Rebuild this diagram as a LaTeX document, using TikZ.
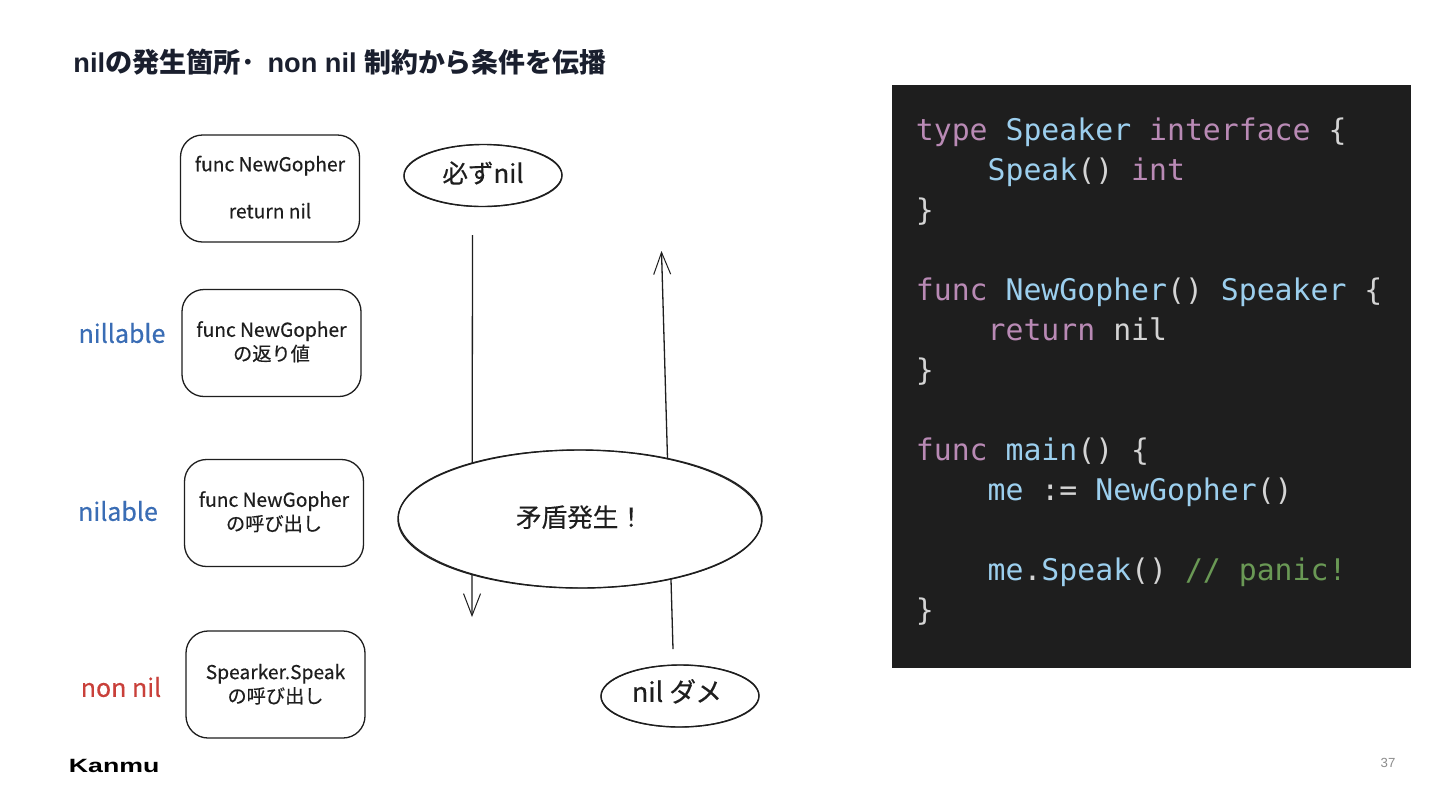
\documentclass[tikz,border=0pt]{standalone}
\usepackage{fontspec}
\setmainfont{Liberation Sans}
\newfontfamily\jafont{Noto Sans CJK JP}
\newfontfamily\handfont[FakeBold=0.35]{Noto Sans CJK JP}
\newfontfamily\logofont[FakeStretch=1.39]{Liberation Sans}
\newfontfamily\codefont{DejaVu Sans Mono}
\usetikzlibrary{shapes.geometric,arrows.meta}
\definecolor{ink}{HTML}{1E1E1E}
\definecolor{titleink}{HTML}{1A1F2E}
\definecolor{nblue}{HTML}{3A6DB5}
\definecolor{nred}{HTML}{C9403A}
\definecolor{codebg}{HTML}{1E1E1E}
\definecolor{ckw}{HTML}{B98AB5}
\definecolor{cid}{HTML}{9CCFEE}
\definecolor{cpl}{HTML}{D4D4D4}
\definecolor{ccm}{HTML}{6A9955}
\newcommand{\K}[1]{\textcolor{ckw}{#1}}
\newcommand{\I}[1]{\textcolor{cid}{#1}}
\newcommand{\Cm}[1]{\textcolor{ccm}{#1}}
\newcommand{\Ind}{\hspace{2.408em}}
\newcommand{\Lift}[1]{\\[#1]\mbox{}}
\newcommand{\Up}[2]{\raisebox{#1}[6pt][2pt]{#2}}
\tikzset{
  x=0.5pt,y=-0.5pt,
  sketchbox/.style={draw=ink,line width=0.65pt,rounded corners=11pt,fill=white,minimum width=89.5pt,minimum height=53.5pt,inner sep=0pt,align=center,font=\handfont\fontsize{9.6pt}{12pt}\selectfont,text=ink},
  sketchoval/.style={draw=ink,line width=0.7pt,ellipse,fill=white,inner sep=0pt,text=ink,font=\handfont\fontsize{12.8pt}{14pt}\selectfont},
  sketchline/.style={draw=ink,line width=0.45pt},
  sketcharrow/.style={draw=ink,line width=0.65pt,-{Straight Barb[length=11pt,width=8.5pt,line width=0.5pt]}},
  sidelabel/.style={font=\handfont\fontsize{12.5pt}{14pt}\selectfont,inner sep=0pt},
  codeline/.style={anchor=base west,inner sep=0pt,font=\codefont\fontsize{14.9pt}{18pt}\selectfont,text=cpl},
}
\begin{document}
\begin{tikzpicture}
\useasboundingbox (0,0) rectangle (1440,810);
\fill[white] (0,0) rectangle (1440,810);
\node[anchor=west,inner sep=0pt,text=titleink] (title) at (73,62) {\fontsize{13.6pt}{16pt}\selectfont\bfseries nil{\jafont の発生箇所･}\hspace{6.4pt}non nil {\fontsize{13.45pt}{16pt}\selectfont\jafont 制約から条件を伝播}};

\node[sketchbox] (b1) at (270,188.5) {func NewGopher\\[11.5pt]return nil\Lift{-10.5pt}};
\node[sketchbox] (b2) at (271.5,343) {func NewGopher\\の返り値\Lift{-10pt}};
\node[sketchbox] (b3) at (274,513) {func NewGopher\\の呼び出し\Lift{-10pt}};
\node[sketchbox] (b4) at (275.5,684.5) {Spearker.Speak\\の呼び出し\Lift{-11pt}};

\node[sidelabel,text=nblue] (l2) at (122,333) {nillable};
\node[sidelabel,text=nblue] (l3) at (118,511) {nilable};
\node[sidelabel,text=nred] (l4) at (121,687) {non nil};

\node[sketchoval,minimum width=79pt,minimum height=31pt] (o1) at (483,175.5) {\Up{-1.65pt}{必ずnil}};
\coordinate (d0) at (472.5,235);
\coordinate (d1) at (472,617);
\coordinate (u0) at (673,649);
\coordinate (u1) at (661.5,251);
\draw[sketcharrow] (d0) -- (d1);
\draw[sketcharrow] (u0) -- (u1);
\node[sketchoval,minimum width=182pt,minimum height=69pt] (o2) at (580,519) {\Up{-1.9pt}{矛盾発生！}};
\node[sketchoval,minimum width=79pt,minimum height=31pt] (o3) at (680,696) {\fontsize{13.4pt}{14pt}\selectfont\hspace{-3pt}\Up{-0.9pt}{nil ダメ}};
\draw[sketchline,rotate around={0.7:(o1.center)}] (o1.center) ellipse [x radius=79,y radius=31];
\draw[sketchline,rotate around={-0.4:(o2.center)}] (o2.center) ellipse [x radius=181.5,y radius=69];
\draw[sketchline,rotate around={0.6:(o3.center)}] (o3.center) ellipse [x radius=79,y radius=31];

\node[anchor=west,inner sep=0pt,text=black] (logo) at (68.5,765.5) {\fontsize{9.6pt}{12pt}\selectfont\logofont\bfseries Kanmu};
\node[inner sep=0pt,text=black!45] (page) at (1388,763) {\fontsize{6.6pt}{8pt}\selectfont 37};

\fill[codebg] (892,85) rectangle (1411,668);
\node[codeline] (c1) at (915.5,140) {\K{type} \I{Speaker} \K{interface} \{};
\node[codeline] (c2) at (915.5,180) {\Ind\I{Speak}() \K{int}};
\node[codeline] (c3) at (915.5,220) {\}};
\node[codeline] (c5) at (915.5,300) {\K{func} \I{NewGopher}() \I{Speaker} \{};
\node[codeline] (c6) at (915.5,340) {\Ind\K{return} nil};
\node[codeline] (c7) at (915.5,380) {\}};
\node[codeline] (c9) at (915.5,460) {\K{func} \I{main}() \{};
\node[codeline] (c10) at (915.5,500) {\Ind\I{me} := \I{NewGopher}()};
\node[codeline] (c12) at (915.5,580) {\Ind\I{me}.\I{Speak}() \Cm{// panic!}};
\node[codeline] (c13) at (915.5,620) {\}};
\end{tikzpicture}
\end{document}
